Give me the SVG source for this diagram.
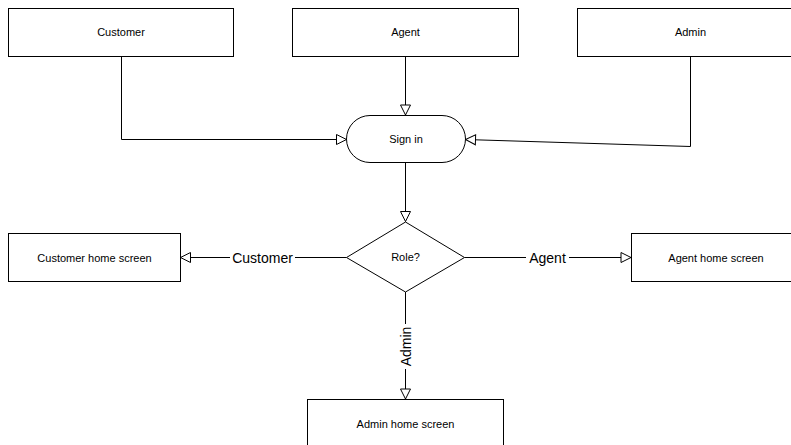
<svg xmlns="http://www.w3.org/2000/svg" width="791" height="445" viewBox="0 0 791 445">
<style>
.box{fill:#fff;stroke:#000;stroke-width:1}
.t{font-family:"Liberation Sans Narrow","Liberation Sans",Arial,sans-serif;font-size:11px;fill:#000;text-anchor:middle;dominant-baseline:central}
.lbl{font-family:"Liberation Sans Narrow","Liberation Sans",Arial,sans-serif;font-size:14px;fill:#000;text-anchor:middle;dominant-baseline:central}
.c{fill:none;stroke:#000;stroke-width:1;marker-end:url(#tri)}
.bg{fill:#fff}
</style>
<defs>
<marker id="tri" markerUnits="userSpaceOnUse" markerWidth="12" markerHeight="12" viewBox="0 0 12 12" refX="11" refY="6" orient="auto">
<path d="M1,1 L11,6 L1,11 Z" fill="#fff" stroke="#000" stroke-width="1"/>
</marker>
</defs>
<rect width="791" height="445" fill="#fff"/>
<g id="connectors">
<path class="c" d="M121.5,56.5 V139.5 H346.5"/>
<path class="c" d="M405.5,56.5 V115"/>
<path class="c" d="M690.5,56.5 V146.5 L465.5,139.5"/>
<path class="c" d="M405.5,163 V221.5"/>
<path class="c" d="M346.5,257.5 H180.5"/>
<path class="c" d="M464.5,257.5 H631"/>
<path class="c" d="M405.5,292 V399"/>
<rect class="bg" x="230" y="249" width="65" height="17"/>
<text class="lbl" x="262.5" y="257.5">Customer</text>
<rect class="bg" x="526" y="249" width="43" height="17"/>
<text class="lbl" x="547.5" y="257.5">Agent</text>
<rect class="bg" x="397" y="324" width="17" height="45"/>
<text class="lbl" transform="translate(405.5 346.5) rotate(-90)">Admin</text>
</g>
<g id="customer">
<rect class="box" x="8.5" y="8.5" width="225" height="48"/>
<text class="t" x="121" y="32">Customer</text>
</g>
<g id="agent">
<rect class="box" x="292.5" y="8.5" width="226" height="48"/>
<text class="t" x="405.5" y="32">Agent</text>
</g>
<g id="admin">
<rect class="box" x="577.5" y="8.5" width="226" height="48"/>
<text class="t" x="690.5" y="32">Admin</text>
</g>
<g id="signin">
<rect class="box" x="346.5" y="115.5" width="119" height="47" rx="23.5" ry="23.5"/>
<text class="t" x="406" y="139">Sign in</text>
</g>
<g id="role">
<polygon class="box" points="405.5,222 464.5,257.5 405.5,292 346.5,257.5"/>
<text class="t" x="405.5" y="257">Role?</text>
</g>
<g id="customer-home">
<rect class="box" x="8.5" y="233.5" width="172" height="48"/>
<text class="t" x="94.5" y="257.5">Customer home screen</text>
</g>
<g id="agent-home">
<rect class="box" x="631.5" y="233.5" width="172" height="48"/>
<text class="t" x="716" y="257.5">Agent home screen</text>
</g>
<g id="admin-home">
<rect class="box" x="307.5" y="399.5" width="196" height="60"/>
<text class="t" x="405.5" y="424">Admin home screen</text>
</g>
</svg>
